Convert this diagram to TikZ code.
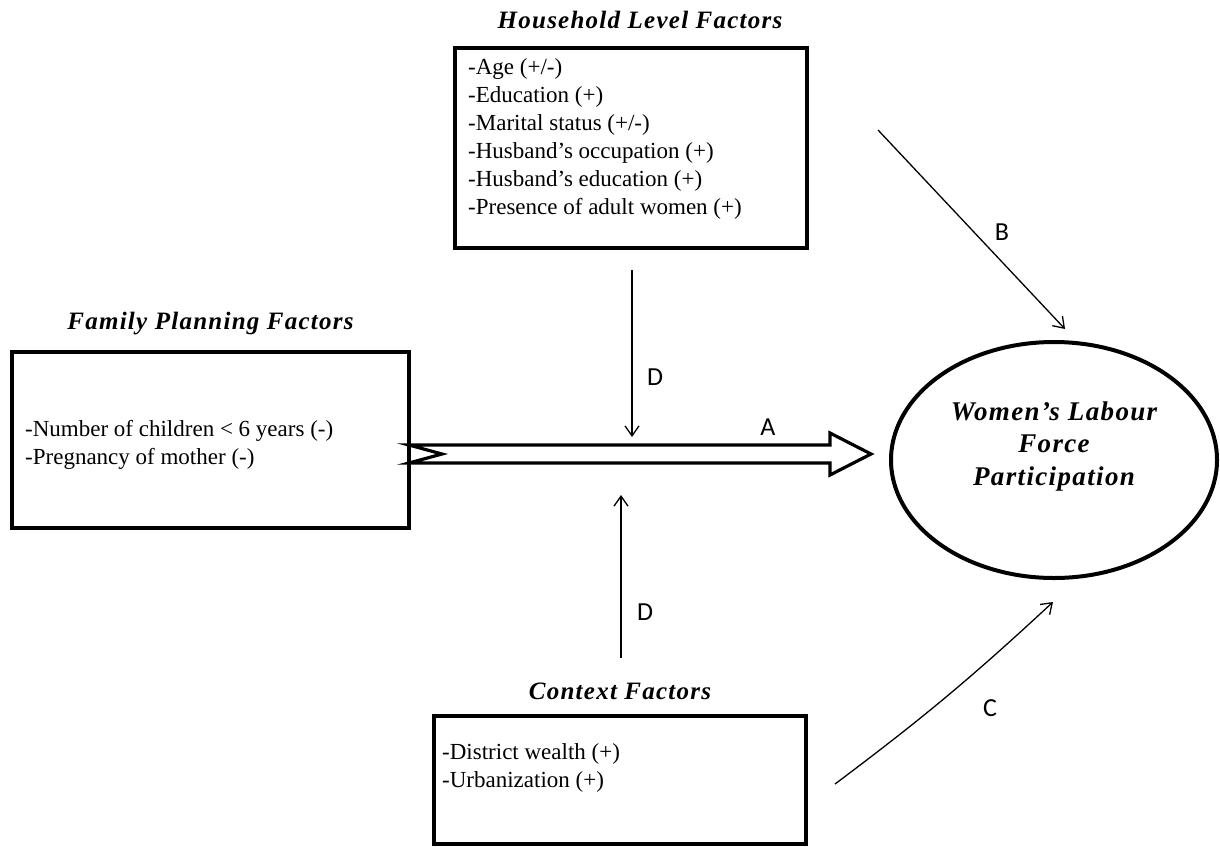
\documentclass[tikz,border=0pt]{standalone}
\usepackage{fontspec}
\setmainfont{Liberation Serif}
\newfontfamily\lblfont{Carlito}
\newfontfamily\headfont[LetterSpace=5]{Liberation Serif}
\usetikzlibrary{arrows.meta,positioning,shapes.geometric}

\begin{document}
\begin{tikzpicture}[x=1pt, y=-1pt, >={Straight Barb[length=10pt, width=14pt]},
                    box/.style={draw, line width=3.5pt, inner sep=0pt},
                    items/.style={align=left, inner sep=0pt, font=\fontsize{23}{28}\selectfont},
                    head/.style={inner sep=0pt, font=\headfont\fontsize{25}{28}\selectfont\bfseries\itshape},
                    lbl/.style={inner sep=0pt, font=\lblfont\fontsize{26}{30}\selectfont},
                    thin/.style={->, line width=1.3pt}]
    \useasboundingbox (0,0) rectangle (1220,846);
    % factor boxes
    \node[box, minimum width=352pt, minimum height=200pt] (hh) at (631,148) {};
    \node[head, above=17pt of hh, xshift=9pt] (hhtitle) {Household Level Factors};
    \node[items, anchor=north west] (hhlist) at (468,58)
      {-Age (+/-)\\-Education (+)\\-Marital status (+/-)\\-Husband’s occupation (+)\\-Husband’s education (+)\\-Presence of adult women (+)};
    \node[box, minimum width=397pt, minimum height=176pt] (fp) at (210.5,440) {};
    \node[head, above=15pt of fp] (fptitle) {Family Planning Factors};
    \node[items, anchor=north west] (fplist) at (25,420)
      {-Number of children < 6 years (-)\\-Pregnancy of mother (-)};
    \node[box, minimum width=372pt, minimum height=128pt] (cx) at (620,780) {};
    \node[head, above=14pt of cx] (cxtitle) {Context Factors};
    \node[items, anchor=north west] (cxlist) at (442,743)
      {-District wealth (+)\\-Urbanization (+)};
    % outcome
    \node[ellipse, draw, line width=4pt, minimum width=326pt, minimum height=236pt] (wlf) at (1054,460) {};
    \node[head, align=center, font=\headfont\fontsize{27}{32.5}\selectfont\bfseries\itshape] (wlftext) at (1054,446)
      {Women’s Labour\\Force\\Participation};
    % path A
    \path (fp.east) ++(-1.75,14) coordinate (aTail);
    \draw[line width=3.2pt, fill=white, miter limit=10] (aTail) ++(0,-9) -- ++(421,0) -- ++(0,-12) -- ++(41,21)
      -- ++(-41,21) -- ++(0,-12) -- ++(-421,0) -- ++(33,-9) -- cycle;
    \node[lbl] (lblA) at (768,427) {A};
    % paths B, C, D
    \coordinate (bFrom) at (878,130);
    \coordinate (bTo) at (1065,329);
    \draw[thin] (bFrom) -- (bTo);
    \node[lbl] (lblB) at (1002,232) {B};
    \coordinate (cFrom) at (835,784);
    \coordinate (cTo) at (1053,602);
    \draw[thin] (cFrom) to[bend right=3] (cTo);
    \node[lbl] (lblC) at (990,708) {C};
    \coordinate (dTop) at (632,270);
    \coordinate (dTopEnd) at (632,437);
    \draw[thin] (dTop) -- (dTopEnd);
    \node[lbl] (lblD1) at (655,377) {D};
    \coordinate (dBot) at (621,658);
    \coordinate (dBotEnd) at (621,495);
    \draw[thin] (dBot) -- (dBotEnd);
    \node[lbl] (lblD2) at (645,612) {D};
\end{tikzpicture}
\end{document}
